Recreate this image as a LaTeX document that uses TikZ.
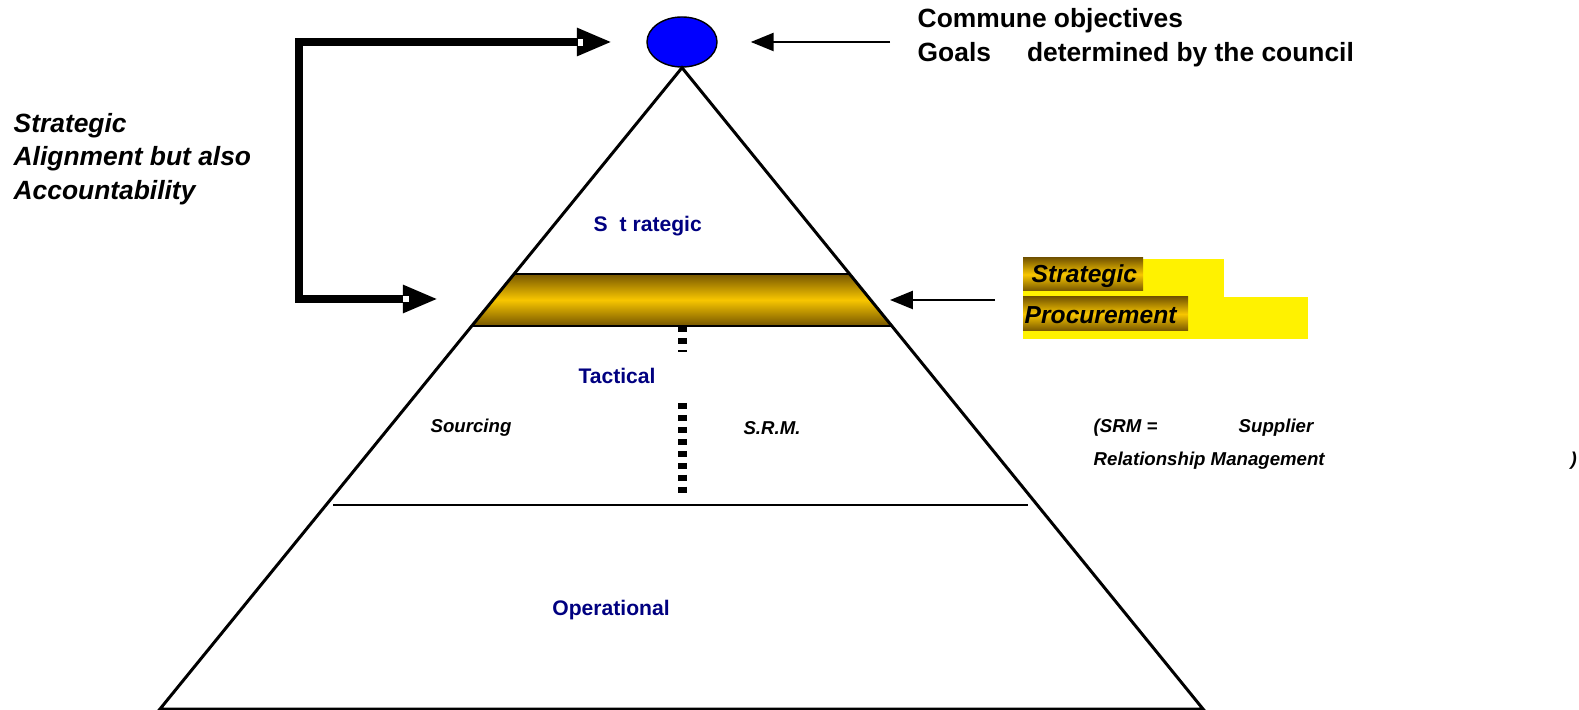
\documentclass[tikz,border=0pt]{standalone}
\usepackage{fontspec}
\setmainfont{Liberation Sans}
\usetikzlibrary{arrows.meta, calc, shapes.geometric}
\definecolor{navytext}{RGB}{0,0,128}
\definecolor{golddark}{RGB}{118,86,0}
\definecolor{goldlight}{RGB}{248,198,0}
\newcommand{\bigtxt}{\fontsize{7.5}{9.6}\selectfont\bfseries}

\begin{document}
\begin{tikzpicture}[x=0.01cm, y=-0.01cm,
  levellabel/.style={text=navytext, font=\fontsize{6}{7}\selectfont\bfseries, inner sep=0},
  sidenote/.style={anchor=west, inner sep=0, font=\fontsize{5.3}{6}\selectfont\bfseries\itshape},
  thinarrow/.style={-{Triangle[length=6.5pt,width=5.1pt]}, line width=0.7pt},
  thickarrow/.style={{Triangle[length=10pt,width=7.4pt]}-{Triangle[length=10pt,width=7.4pt]}, line width=2.4pt, line join=miter},
  dotrule/.style={line width=2.56pt, dash pattern=on 1.7pt off 1.7pt},
  goldfill/.style={top color=golddark, bottom color=golddark, middle color=goldlight}]
\useasboundingbox (0,0) rectangle (1579,710);
% Top objective
\node[ellipse, draw, fill=blue, line width=0.4pt, minimum width=0.7cm, minimum height=0.5cm, inner sep=0] (goal) at (682,42) {};
\coordinate (baseL) at (160,709);
\coordinate (baseR) at (1203,709);
% Strategic procurement band
\coordinate (bandTL) at ($(goal.south)!0.3214!(baseL)$);
\coordinate (bandBL) at ($(goal.south)!0.4025!(baseL)$);
\coordinate (bandTR) at ($(goal.south)!0.3214!(baseR)$);
\coordinate (bandBR) at ($(goal.south)!0.4025!(baseR)$);
\shade[goldfill] (bandTL) -- (bandTR) -- (bandBR) -- (bandBL) -- cycle;
\draw[line width=0.4pt] (bandTL) -- (bandTR) (bandBL) -- (bandBR);
% Pyramid
\draw[line width=0.85pt, line join=miter] (goal.south) -- (baseL) -- (baseR) -- cycle;
\draw[line width=0.6pt] (333,505) -- (1028,505);
% Dotted split
\draw[dotrule] (682,326) -- (682,352);
\draw[dotrule] (682,403) -- (682,498);
% Level labels
\node[levellabel, anchor=west] (strat) at (593,226) {S\hspace{3.4pt}t rategic};
\node[levellabel] (tact) at (617,376) {Tactical};
\node[levellabel] (oper) at (611,610) {Operational};
\node[sidenote, anchor=center] (sourcing) at (471,428) {Sourcing};
\node[sidenote, anchor=center] (srm) at (772,428) {S.R.M.};
\node[sidenote] (srmopen) at (1093,428) {(SRM =};
\node[sidenote] (supplier) at (1238,428) {Supplier};
\node[sidenote] (relation) at (1093,461) {Relationship Management};
\node[sidenote] (srmclose) at (1570,461) {)};
% Objectives text
\node[anchor=west, inner sep=0, font=\bigtxt] (commune) at (917,21) {Commune objectives};
\node[anchor=west, inner sep=0, font=\bigtxt] (council) at (917,55) {Goals\hspace{0.36cm}determined by the council};
\coordinate (goalfrom) at (890,42);
\draw[thinarrow, shorten >=0.33cm] (goalfrom) -- (goal.east);
% Alignment bracket
\node[anchor=west, align=left, inner sep=0, font=\bigtxt\itshape] (alignnote) at (13,159) {Strategic\\Alignment but also\\Accountability};
\coordinate (topTip) at (612,42);
\coordinate (lowTip) at (438,299);
\draw[thickarrow] (topTip) -- (299,42) -- (299,299) -- (lowTip);
\fill[white] (578,39) rectangle (583,46);
\fill[white] (403,296) rectangle (409,302);
% Strategic procurement label
\fill[yellow] (1023,259) rectangle (1224,297);
\fill[yellow] (1023,297) rectangle (1308,339);
\shade[goldfill] (1023,258) rectangle (1143,291);
\shade[goldfill] (1023,297) rectangle (1188,331);
\node[anchor=west, inner sep=0, font=\fontsize{7}{8}\selectfont\bfseries\itshape] (spstrat) at (1031,276) {Strategic};
\node[anchor=west, inner sep=0, font=\fontsize{7}{8}\selectfont\bfseries\itshape] (spproc) at (1024,315) {Procurement};
\coordinate (bandfrom) at (995,300);
\coordinate (bandtip) at (890,300);
\draw[thinarrow] (bandfrom) -- (bandtip);
\end{tikzpicture}
\end{document}
